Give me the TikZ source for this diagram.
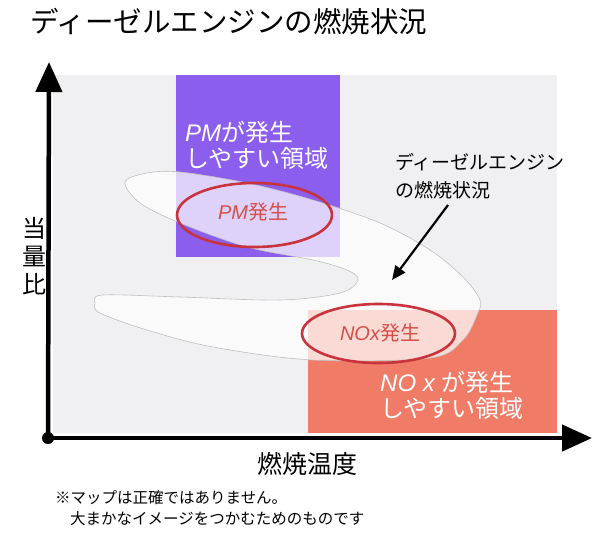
\documentclass[tikz,border=0pt]{standalone}
\usepackage{fontspec}
\usetikzlibrary{arrows.meta}
\newfontfamily\jp{Noto Sans CJK JP}
\newfontfamily\lsans{Liberation Sans}
\definecolor{panel}{RGB}{240,240,242}
\definecolor{pmc}{RGB}{139,94,238}
\definecolor{noxc}{RGB}{240,124,104}
\definecolor{ringc}{RGB}{200,52,62}
\definecolor{ringtext}{RGB}{214,78,72}
\tikzset{
  axisline/.style={line width=4.5pt,-{Triangle[length=30pt,width=26pt]}},
  ring/.style={draw=ringc,line width=2.6pt},
  regiontext/.style={text=white,align=left,anchor=west,font=\fontsize{24}{26}\selectfont\jp,inner sep=0pt},
  ringlabel/.style={text=ringtext,font=\fontsize{20}{22}\selectfont\jp,inner sep=0pt},
  blacktext/.style={text=black,inner sep=0pt,font=\jp}
}
\begin{document}
\begin{tikzpicture}[x=1pt,y=-1pt]
\useasboundingbox (0,0) rectangle (599,539);
% background panel and regions
\fill[panel] (53,75) rectangle (557,433);
\fill[pmc] (176,75) rectangle (340,257);
\fill[noxc] (308,310) rectangle (557,433);
% combustion blob
\filldraw[fill=white,fill opacity=0.72,draw=black!25,line width=0.6pt]
 plot[smooth cycle,tension=0.55] coordinates {
 (125,182) (147,173) (180,172) (247,183) (313,200) (380,223) (430,250)
 (463,277) (480,300) (477,315) (463,340) (430,358) (313,360) (213,347)
 (147,330) (100,313) (95,303) (103,295) (180,297) (280,300) (340,293)
 (358,280) (347,270) (313,260) (247,247) (180,223) (140,203)};
% rings
\draw[ring] (254.5,215) ellipse [x radius=77.5, y radius=32];
\draw[ring] (378.5,333.5) ellipse [x radius=76.5, y radius=29.5];
\node[ringlabel] (pmlab) at (253,212) {{\lsans\itshape PM}発生};
\node[ringlabel] (noxlab) at (380,333) {{\lsans\itshape NOx}発生};
% region texts
\node[regiontext] (pmreg) at (185,145) {{\lsans\itshape PM}が発生\\しやすい領域};
\node[regiontext] (noxreg) at (380,395) {{\lsans\itshape NO x }が発生\\しやすい領域};
% annotation
\node[blacktext,anchor=west,align=left,font=\fontsize{19}{28}\selectfont\jp] (ann) at (395,176) {ディーゼルエンジン\\の燃焼状況};
\coordinate (annfrom) at (448,205);
\coordinate (annto) at (392,280);
\draw[line width=2.2pt,-{Triangle[length=14pt,width=12pt]}] (annfrom) -- (annto);
% title
\node[blacktext,anchor=west,font=\fontsize{28.5}{30}\selectfont\jp] (title) at (30,22) {ディーゼルエンジンの燃焼状況};
% axes
\coordinate (origin) at (48,438);
\coordinate (ytip) at (49,62);
\coordinate (xtip) at (592,438);
\draw[axisline] (origin) -- (ytip);
\draw[axisline] (origin) -- (xtip);
\fill (origin) circle (6);
\node[blacktext,align=center,font=\fontsize{24}{28}\selectfont\jp] (ylab) at (34,256) {当\\量\\比};
\node[blacktext,font=\fontsize{25}{27}\selectfont\jp] (xlab) at (307,464) {燃焼温度};
% footnote
\node[blacktext,anchor=west,font=\fontsize{15.5}{17}\selectfont\jp] (note1) at (55,498) {※マップは正確ではありません。};
\node[blacktext,anchor=west,font=\fontsize{15.5}{17}\selectfont\jp] (note2) at (70,519) {大まかなイメージをつかむためのものです};
\end{tikzpicture}
\end{document}
